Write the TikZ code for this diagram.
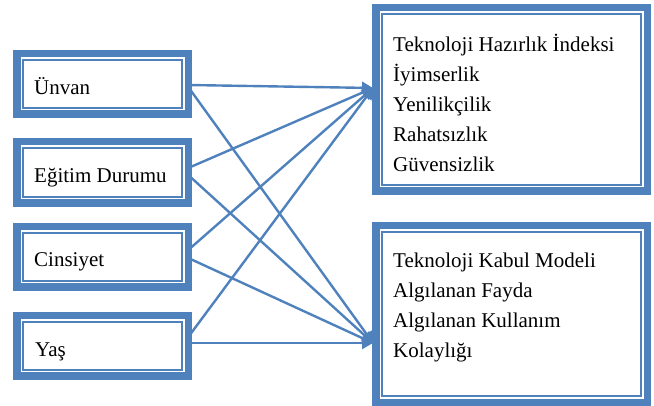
\documentclass[tikz,border=0pt]{standalone}
\usepackage{fontspec}
\setmainfont{Liberation Serif}
\usetikzlibrary{arrows.meta}
\definecolor{bl}{RGB}{79,129,189}
\begin{document}
\begin{tikzpicture}[x=1pt,y=-1pt,
  dbox/.style={draw=bl, line width=7.5pt, fill=white, inner sep=0pt, outer sep=0pt,
    path picture={\draw[bl, line width=2pt]
      ([shift={(6.7pt,-6.7pt)}]path picture bounding box.north west) rectangle
      ([shift={(-6.7pt,6.7pt)}]path picture bounding box.south east);}},
  conn/.style={draw=bl, line width=2.4pt, -{Triangle[length=11pt,width=12pt]}},
  lbl/.style={anchor=base west, inner sep=0pt, align=left, font=\fontsize{21}{29.8}\selectfont}]
\useasboundingbox (0,0) rectangle (654,406);
% target points
\coordinate (tA) at (373,88);
\coordinate (tB) at (373,343);
% boxes
\node[dbox, minimum width=171.5pt, minimum height=60.5pt] (u) at (102.5,84) {};
\node[dbox, minimum width=171.5pt, minimum height=61.5pt] (e) at (102.5,172.5) {};
\node[dbox, minimum width=171.5pt, minimum height=60.5pt] (c) at (102.5,257) {};
\node[dbox, minimum width=171.5pt, minimum height=60.5pt] (y) at (102.5,346) {};
\node[dbox, minimum width=271.5pt, minimum height=183.5pt] (r1) at (511.5,99.5) {};
\node[dbox, minimum width=271.5pt, minimum height=176.5pt] (r2) at (511.5,314) {};
% connectors
\draw[conn] ([yshift=-1pt]u.east) -- (tA);
\draw[conn] ([yshift=-3pt]u.east) -- (tB);
\draw[conn] ([yshift=4.5pt]e.east) -- (tA);
\draw[conn] ([yshift=-2.5pt]e.east) -- (tB);
\draw[conn] ([yshift=7pt]c.east) -- (tA);
\draw[conn] ([yshift=-1pt]c.east) -- (tB);
\draw[conn] ([yshift=9pt]y.east) -- (tA);
\draw[conn] ([yshift=3pt]y.east) -- (tB);
% texts
\node[lbl] (tu) at (34,95) {Ünvan};
\node[lbl] (te) at (34,183) {Eğitim Durumu};
\node[lbl] (tc) at (34,267) {Cinsiyet};
\node[lbl] (ty) at (35,357) {Yaş};
\node[lbl] (t1) at (393,171.2) {Teknoloji Hazırlık İndeksi\\İyimserlik\\Yenilikçilik\\Rahatsızlık\\Güvensizlik};
\node[lbl] (t2) at (393,357.4) {Teknoloji Kabul Modeli\\Algılanan Fayda\\Algılanan Kullanım\\Kolaylığı};
\end{tikzpicture}
\end{document}
